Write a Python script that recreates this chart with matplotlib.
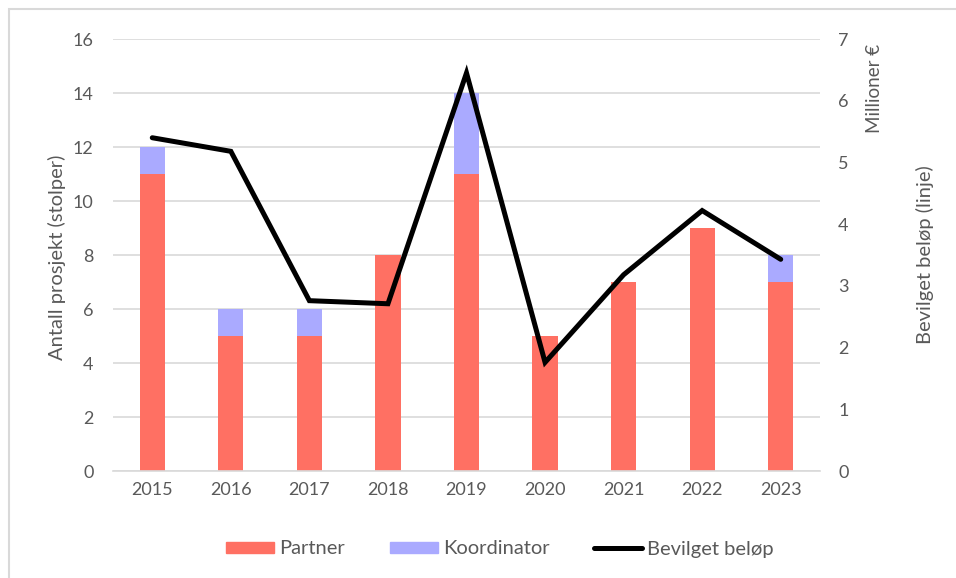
import numpy as np
import matplotlib
matplotlib.use("Agg")
import matplotlib.pyplot as plt
from matplotlib.patches import Patch, Rectangle
from matplotlib.lines import Line2D

years = ["2015", "2016", "2017", "2018", "2019", "2020", "2021", "2022", "2023"]
partner = [11, 5, 5, 8, 11, 5, 7, 9, 7]
koordinator = [1, 1, 1, 0, 3, 0, 0, 0, 1]
belop = [5.40, 5.18, 2.76, 2.71, 6.45, 1.76, 3.18, 4.22, 3.43]

c_partner = "#FF7063"
c_koord = "#AAAAFF"
c_text = "#595959"
c_grid = "#D9D9D9"

plt.rcParams["font.family"] = ["Lato", "DejaVu Sans"]

fig = plt.figure(figsize=(9.56, 5.78), dpi=100)
ax = fig.add_axes([113/956, 1-471/578, (820-113)/956, (471-39)/578])
ax2 = ax.twinx()

x = np.arange(len(years))
w = 0.32
ax.bar(x, partner, w, color=c_partner, label="Partner", zorder=2)
ax.bar(x, koordinator, w, bottom=partner, color=c_koord, label="Koordinator", zorder=2)
ax2.plot(x, belop, color="black", lw=3.6, solid_capstyle="round", solid_joinstyle="miter")

ax.set_xlim(-0.5, len(years) - 0.5)
ax.set_ylim(0, 16)
ax.set_yticks(range(0, 17, 2))
ax2.set_ylim(0, 7)
ax2.set_yticks(range(0, 8))
ax.set_xticks(x)
ax.set_xticklabels(years)

ax.grid(axis="y", color=c_grid, lw=1.2, zorder=0)
ax.set_axisbelow(True)
for a in (ax, ax2):
    for s in a.spines.values():
        s.set_visible(False)
    a.tick_params(colors=c_text, length=0, labelsize=13)
ax.spines["bottom"].set_visible(True)
ax.spines["bottom"].set_color(c_grid)
ax.spines["bottom"].set_linewidth(1.2)
ax.tick_params(axis="y", pad=14)
ax.tick_params(axis="x", pad=8)
ax2.tick_params(axis="y", pad=13)

fig.text(57/956, 1-257/578, "Antall prosjekt (stolper)", rotation=90, color=c_text,
         fontsize=14.5, ha="center", va="center")
fig.text(875/956, 1-88/578, "Millioner €", rotation=90, color=c_text,
         fontsize=13.5, ha="center", va="center")
fig.text(925/956, 1-255/578, "Bevilget beløp (linje)", rotation=90, color=c_text,
         fontsize=14.5, ha="center", va="center")

handles = [Patch(color=c_partner), Patch(color=c_koord),
           Line2D([0], [0], color="black", lw=3.6, solid_capstyle="round")]
fig.legend(handles, ["Partner", "Koordinator", "Bevilget beløp"], loc="center",
           bbox_to_anchor=(500/956, 1-549/578), ncol=3, frameon=False,
           handlelength=2.4, handleheight=0.5, columnspacing=2.2,
           handletextpad=0.25, labelcolor=c_text, fontsize=14.5)

fig.patches.append(Rectangle((9/956, -0.1), 1.2, 1-9/578 + 0.1, transform=fig.transFigure,
                             fill=False, edgecolor=c_grid, lw=1.5))

fig.savefig("out.png", dpi=100)
